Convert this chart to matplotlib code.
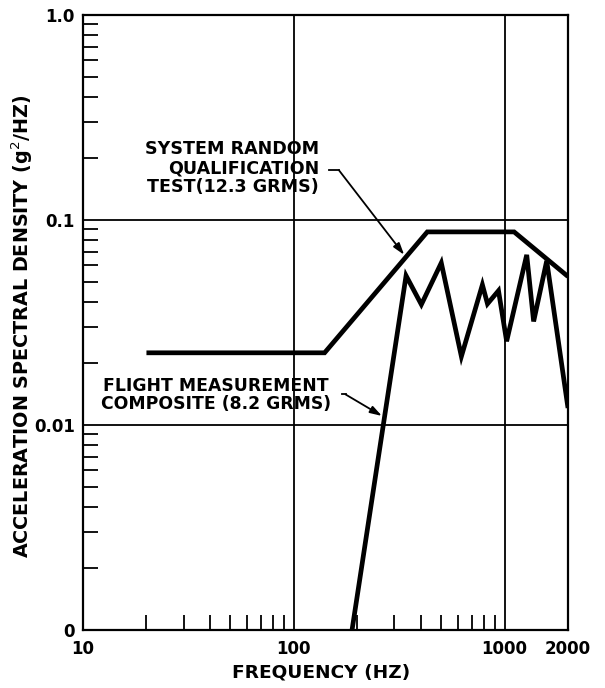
import matplotlib
matplotlib.use("Agg")
import matplotlib.pyplot as plt
from matplotlib.ticker import FixedLocator, FixedFormatter, LogLocator, NullFormatter

# ---- data ----
test_freq = [20, 140, 430, 1110, 2000]
test_psd = [0.0225, 0.0225, 0.0875, 0.0875, 0.053]

flight_freq = [189, 341, 403, 501, 624, 785, 830, 936, 1023, 1274, 1374, 1585, 2000]
flight_psd = [0.001, 0.0535, 0.0387, 0.0618, 0.0216, 0.0483, 0.039, 0.0452,
              0.0256, 0.0676, 0.032, 0.0632, 0.0121]

x_ticks = [10, 100, 1000, 2000]
x_ticklabels = ["10", "100", "1000", "2000"]
y_ticks = [0.001, 0.01, 0.1, 1.0]
y_ticklabels = ["0", "0.01", "0.1", "1.0"]

W, H = 605, 688
fig = plt.figure(figsize=(W / 100, H / 100), dpi=100)
L, R, T, B = 83, 568, 15, 630
ax = fig.add_axes([L / W, 1 - B / H, (R - L) / W, (B - T) / H])

ax.set_xscale("log")
ax.set_yscale("log")
ax.set_xlim(10, 2000)
ax.set_ylim(0.001, 1.0)

font = "DejaVu Sans"

ax.plot(test_freq, test_psd, color="black", lw=3.4, solid_joinstyle="miter",
        solid_capstyle="butt")
ax.plot(flight_freq, flight_psd, color="black", lw=3.4, solid_joinstyle="miter",
        solid_capstyle="butt", clip_on=True)

# grid at decades
for xv in [100, 1000]:
    ax.axvline(xv, color="black", lw=1.3, zorder=1)
for yv in [0.01, 0.1]:
    ax.axhline(yv, color="black", lw=1.3, zorder=1)

for s in ax.spines.values():
    s.set_linewidth(1.6)

ax.xaxis.set_major_locator(FixedLocator(x_ticks))
ax.xaxis.set_major_formatter(FixedFormatter(x_ticklabels))
ax.yaxis.set_major_locator(FixedLocator(y_ticks))
ax.yaxis.set_major_formatter(FixedFormatter(y_ticklabels))
ax.xaxis.set_minor_locator(LogLocator(base=10, subs=[2, 3, 4, 5, 6, 7, 8, 9]))
ax.yaxis.set_minor_locator(LogLocator(base=10, subs=[2, 3, 4, 5, 6, 7, 8, 9]))
ax.xaxis.set_minor_formatter(NullFormatter())
ax.yaxis.set_minor_formatter(NullFormatter())

ax.tick_params(which="major", length=0, labelsize=12, pad=7)
ax.tick_params(which="minor", direction="in", length=11, width=1.3)
ax.tick_params(axis="y", which="major", pad=6)
for lab in ax.get_xticklabels() + ax.get_yticklabels():
    lab.set_fontfamily(font)
    lab.set_fontweight("bold")

# axis labels
fig.text(321 / W, 1 - 672 / H, "FREQUENCY (HZ)", ha="center", va="center",
         fontsize=13.3, fontfamily=font, fontweight="bold")
fig.text(22 / W, 1 - 326 / H, "ACCELERATION SPECTRAL DENSITY (g$^{2}$/HZ)",
         rotation=90, ha="center", va="center", fontsize=13.8, fontfamily=font,
         fontweight="bold")

# annotations
fig.text(319 / W, 1 - 168 / H, "SYSTEM RANDOM\nQUALIFICATION\nTEST(12.3 GRMS)",
         ha="right", va="center", multialignment="right", fontsize=12.6,
         fontfamily=font, fontweight="bold", linespacing=1.05)
fig.text(216 / W, 1 - 395 / H, "FLIGHT MEASUREMENT\nCOMPOSITE (8.2 GRMS)",
         ha="center", va="center", multialignment="center", fontsize=12.4,
         fontfamily=font, fontweight="bold", linespacing=1.05)

arrow = dict(arrowstyle="-|>,head_length=0.7,head_width=0.22", color="black",
             lw=1.3, shrinkA=0, shrinkB=0)
# leader for test curve
ax.plot([146.8, 163.7], [0.175, 0.175], color="black", lw=1.3)
ax.annotate("", xy=(334, 0.0676), xytext=(163.7, 0.175), arrowprops=arrow)
# leader for flight curve
ax.plot([169, 176], [0.0141, 0.0141], color="black", lw=1.3)
ax.annotate("", xy=(262, 0.01107), xytext=(176, 0.0141), arrowprops=arrow)

fig.savefig("out.png", dpi=100)
